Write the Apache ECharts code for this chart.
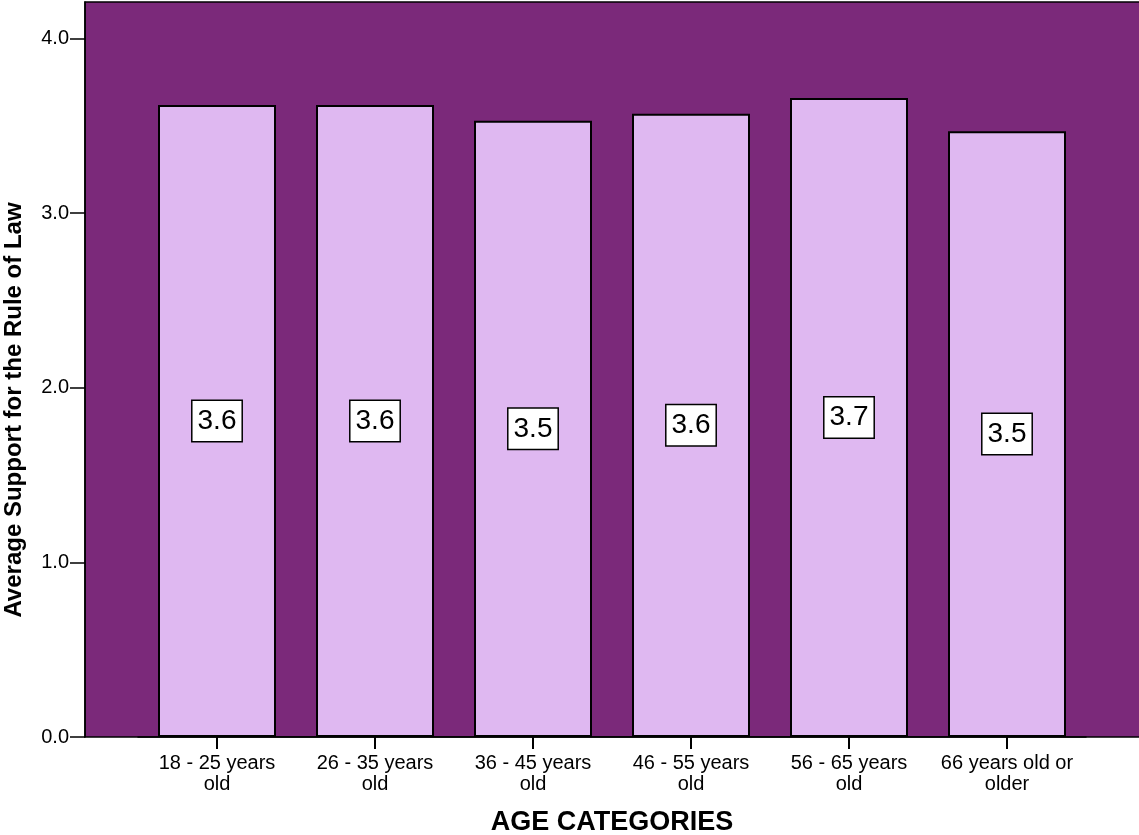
<!DOCTYPE html>
<html>
<head>
<meta charset="utf-8">
<script src="https://cdn.jsdelivr.net/npm/echarts@6/dist/echarts.min.js"></script>
<style>
  html, body { margin: 0; padding: 0; background: #ffffff; }
  #chart { width: 1139px; height: 835px; }
</style>
</head>
<body>
<div id="chart"></div>
<script>
// Age groups and their mean support score
const categories = [
  '18 - 25 years\nold',
  '26 - 35 years\nold',
  '36 - 45 years\nold',
  '46 - 55 years\nold',
  '56 - 65 years\nold',
  '66 years old or\nolder'
];
const meanSupport = [3.62, 3.62, 3.53, 3.57, 3.66, 3.47];
const yTicks = [0, 1, 2, 3, 4];
const yMax = 4.21;

const FONT = "'Liberation Sans', Arial, sans-serif";
const chart = echarts.init(document.getElementById('chart'), null, { renderer: 'canvas' });

chart.setOption({
  animation: false,
  backgroundColor: '#ffffff',
  grid: [
    // plot frame with the purple fill and the value axis
    { left: 85, right: -2, top: 2, bottom: 98, show: true, outerBoundsMode: 'none', containLabel: false,
      backgroundColor: '#7b297a', borderColor: '#000000', borderWidth: 1.5 },
    // inner band holding the category slots
    { left: 138, right: 53, top: 2, bottom: 98, outerBoundsMode: 'none', containLabel: false }
  ],
  xAxis: [
    { type: 'value', gridIndex: 0, min: 0, max: 1, show: false },
    {
      type: 'category', gridIndex: 1, data: categories,
      axisLine: { show: true, lineStyle: { color: '#000000', width: 1.5 } },
      axisTick: { show: true, alignWithLabel: true, length: 12, lineStyle: { color: '#000000', width: 2 } },
      axisLabel: { fontFamily: FONT, fontSize: 20, lineHeight: 21, color: '#000000', margin: 16, interval: 0 },
      name: 'AGE CATEGORIES', nameLocation: 'middle', nameGap: 72,
      nameTextStyle: { fontFamily: FONT, fontSize: 27, fontWeight: 'bold', color: '#000000' }
    }
  ],
  yAxis: [
    {
      type: 'value', gridIndex: 0, min: 0, max: yMax,
      axisLine: { show: true, lineStyle: { color: '#000000', width: 1.5 } },
      axisTick: { show: true, customValues: yTicks, length: 15, lineStyle: { color: '#000000', width: 1.5 } },
      axisLabel: { customValues: yTicks, formatter: v => v.toFixed(1), fontFamily: FONT, fontSize: 20, color: '#000000', margin: 16 },
      splitLine: { show: false }
    },
    { type: 'value', gridIndex: 1, min: 0, max: yMax, show: false }
  ],
  graphic: [
    {
      type: 'text', x: 14, y: 410, rotation: Math.PI / 2,
      style: {
        text: 'Average Support for the Rule of Law',
        font: 'bold 24px ' + FONT, fill: '#000000',
        textAlign: 'center', textVerticalAlign: 'middle'
      }
    }
  ],
  series: [
    {
      type: 'bar', xAxisIndex: 1, yAxisIndex: 1,
      data: meanSupport, barWidth: 118,
      itemStyle: { color: '#dfb8f1', borderColor: '#000000', borderWidth: 2 },
      label: {
        show: true, position: 'inside',
        formatter: p => p.value.toFixed(1),
        fontFamily: FONT, fontSize: 28, color: '#000000',
        backgroundColor: '#ffffff', borderColor: '#000000', borderWidth: 1.5,
        padding: [7, 5, 5, 5]
      }
    }
  ]
});
</script>
</body>
</html>
